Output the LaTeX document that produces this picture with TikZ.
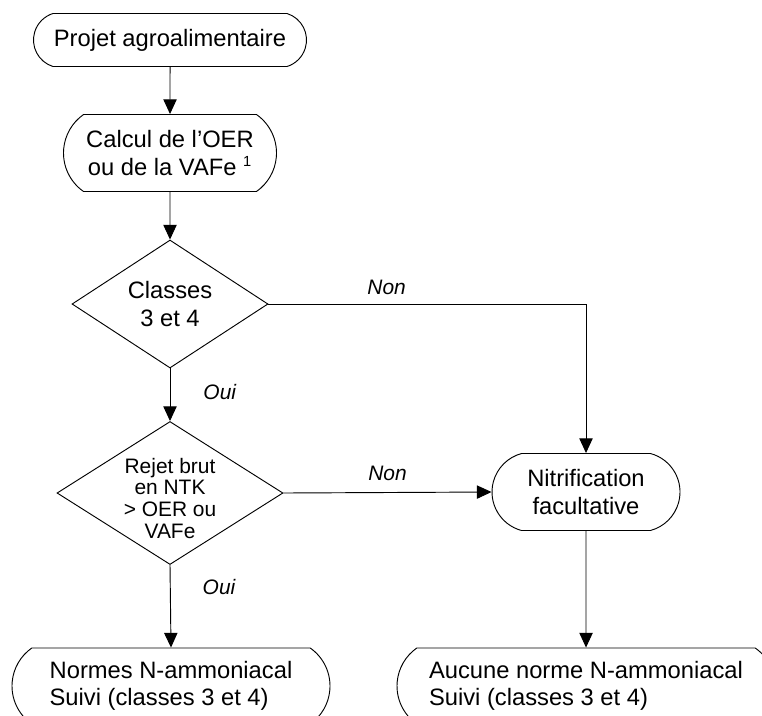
\documentclass[tikz,border=0pt]{standalone}
\usepackage{fontspec}
\setmainfont{Liberation Sans}
\usetikzlibrary{shapes.geometric, shapes.misc, arrows.meta}

\begin{document}
\begin{tikzpicture}[x=0.75pt, y=-0.75pt, line width=0.7pt,
  >={Triangle[length=11pt,width=10pt]},
  every node/.style={font=\fontsize{17.8}{20.5}\selectfont},
  term/.style={draw, rounded rectangle, rounded rectangle arc length=110, inner sep=0pt, align=center},
  decision/.style={draw, diamond, aspect=1.5, inner sep=0pt, align=center},
  lbl/.style={font=\fontsize{15.7}{16.1}\selectfont\itshape, inner sep=0pt}]
  \clip (0,0) rectangle (762,715);
  \useasboundingbox (0,0) rectangle (762,715);

  % blocs
  \node[term, rounded rectangle arc length=145, minimum width=204.75pt, minimum height=39.75pt] (projet) at (170,40) {Projet agroalimentaire};
  \node[term, minimum width=159.75pt, minimum height=57.75pt] (calcul) at (170,153) {Calcul de l’OER\\ou de la VAFe \textsuperscript{\fontsize{11}{11}\selectfont 1}};
  \node[decision, minimum width=147pt, minimum height=96pt] (classes) at (170,304) {Classes\\3 et 4};
  \node[decision, minimum width=169.5pt, minimum height=107.25pt] (rejet) at (170,493) {};
  \node[font=\fontsize{15.7}{16.3}\selectfont, align=center, inner sep=0pt] (rejettxt) at ([yshift=-4pt]rejet.center) {Rejet brut\\en NTK\\> OER ou\\VAFe};
  \node[term, rounded rectangle arc length=150, minimum width=141pt, minimum height=57.75pt] (nitrif) at (586,492) {Nitrification\\facultative};
  \node[term, align=left, minimum width=238.5pt, minimum height=57pt] (normes) at (171,686) {Normes N-ammoniacal\\Suivi (classes 3 et 4)};
  \node[term, align=left, minimum width=283.5pt, minimum height=57pt] (aucune) at (586,686) {Aucune norme N-ammoniacal\\Suivi (classes 3 et 4)};

  % liens
  \draw[->] (projet) -- (calcul);
  \draw[->] (calcul) -- (classes);
  \draw[->] (classes.east) -| node[lbl, pos=0.186, anchor=south, yshift=7pt]{Non} (nitrif.north);
  \draw[->] (classes.south) -- node[lbl, pos=0.44, anchor=west, xshift=24.75pt]{Oui} (rejet.north);
  \draw[->] (rejet.east) -- node[lbl, midway, anchor=south, yshift=8.6pt]{Non} (nitrif.west);
  \draw[->] (rejet.south) -- node[lbl, pos=0.265, anchor=west, xshift=24pt]{Oui} (normes.north);
  \draw[->] (nitrif) -- (aucune);
\end{tikzpicture}
\end{document}
